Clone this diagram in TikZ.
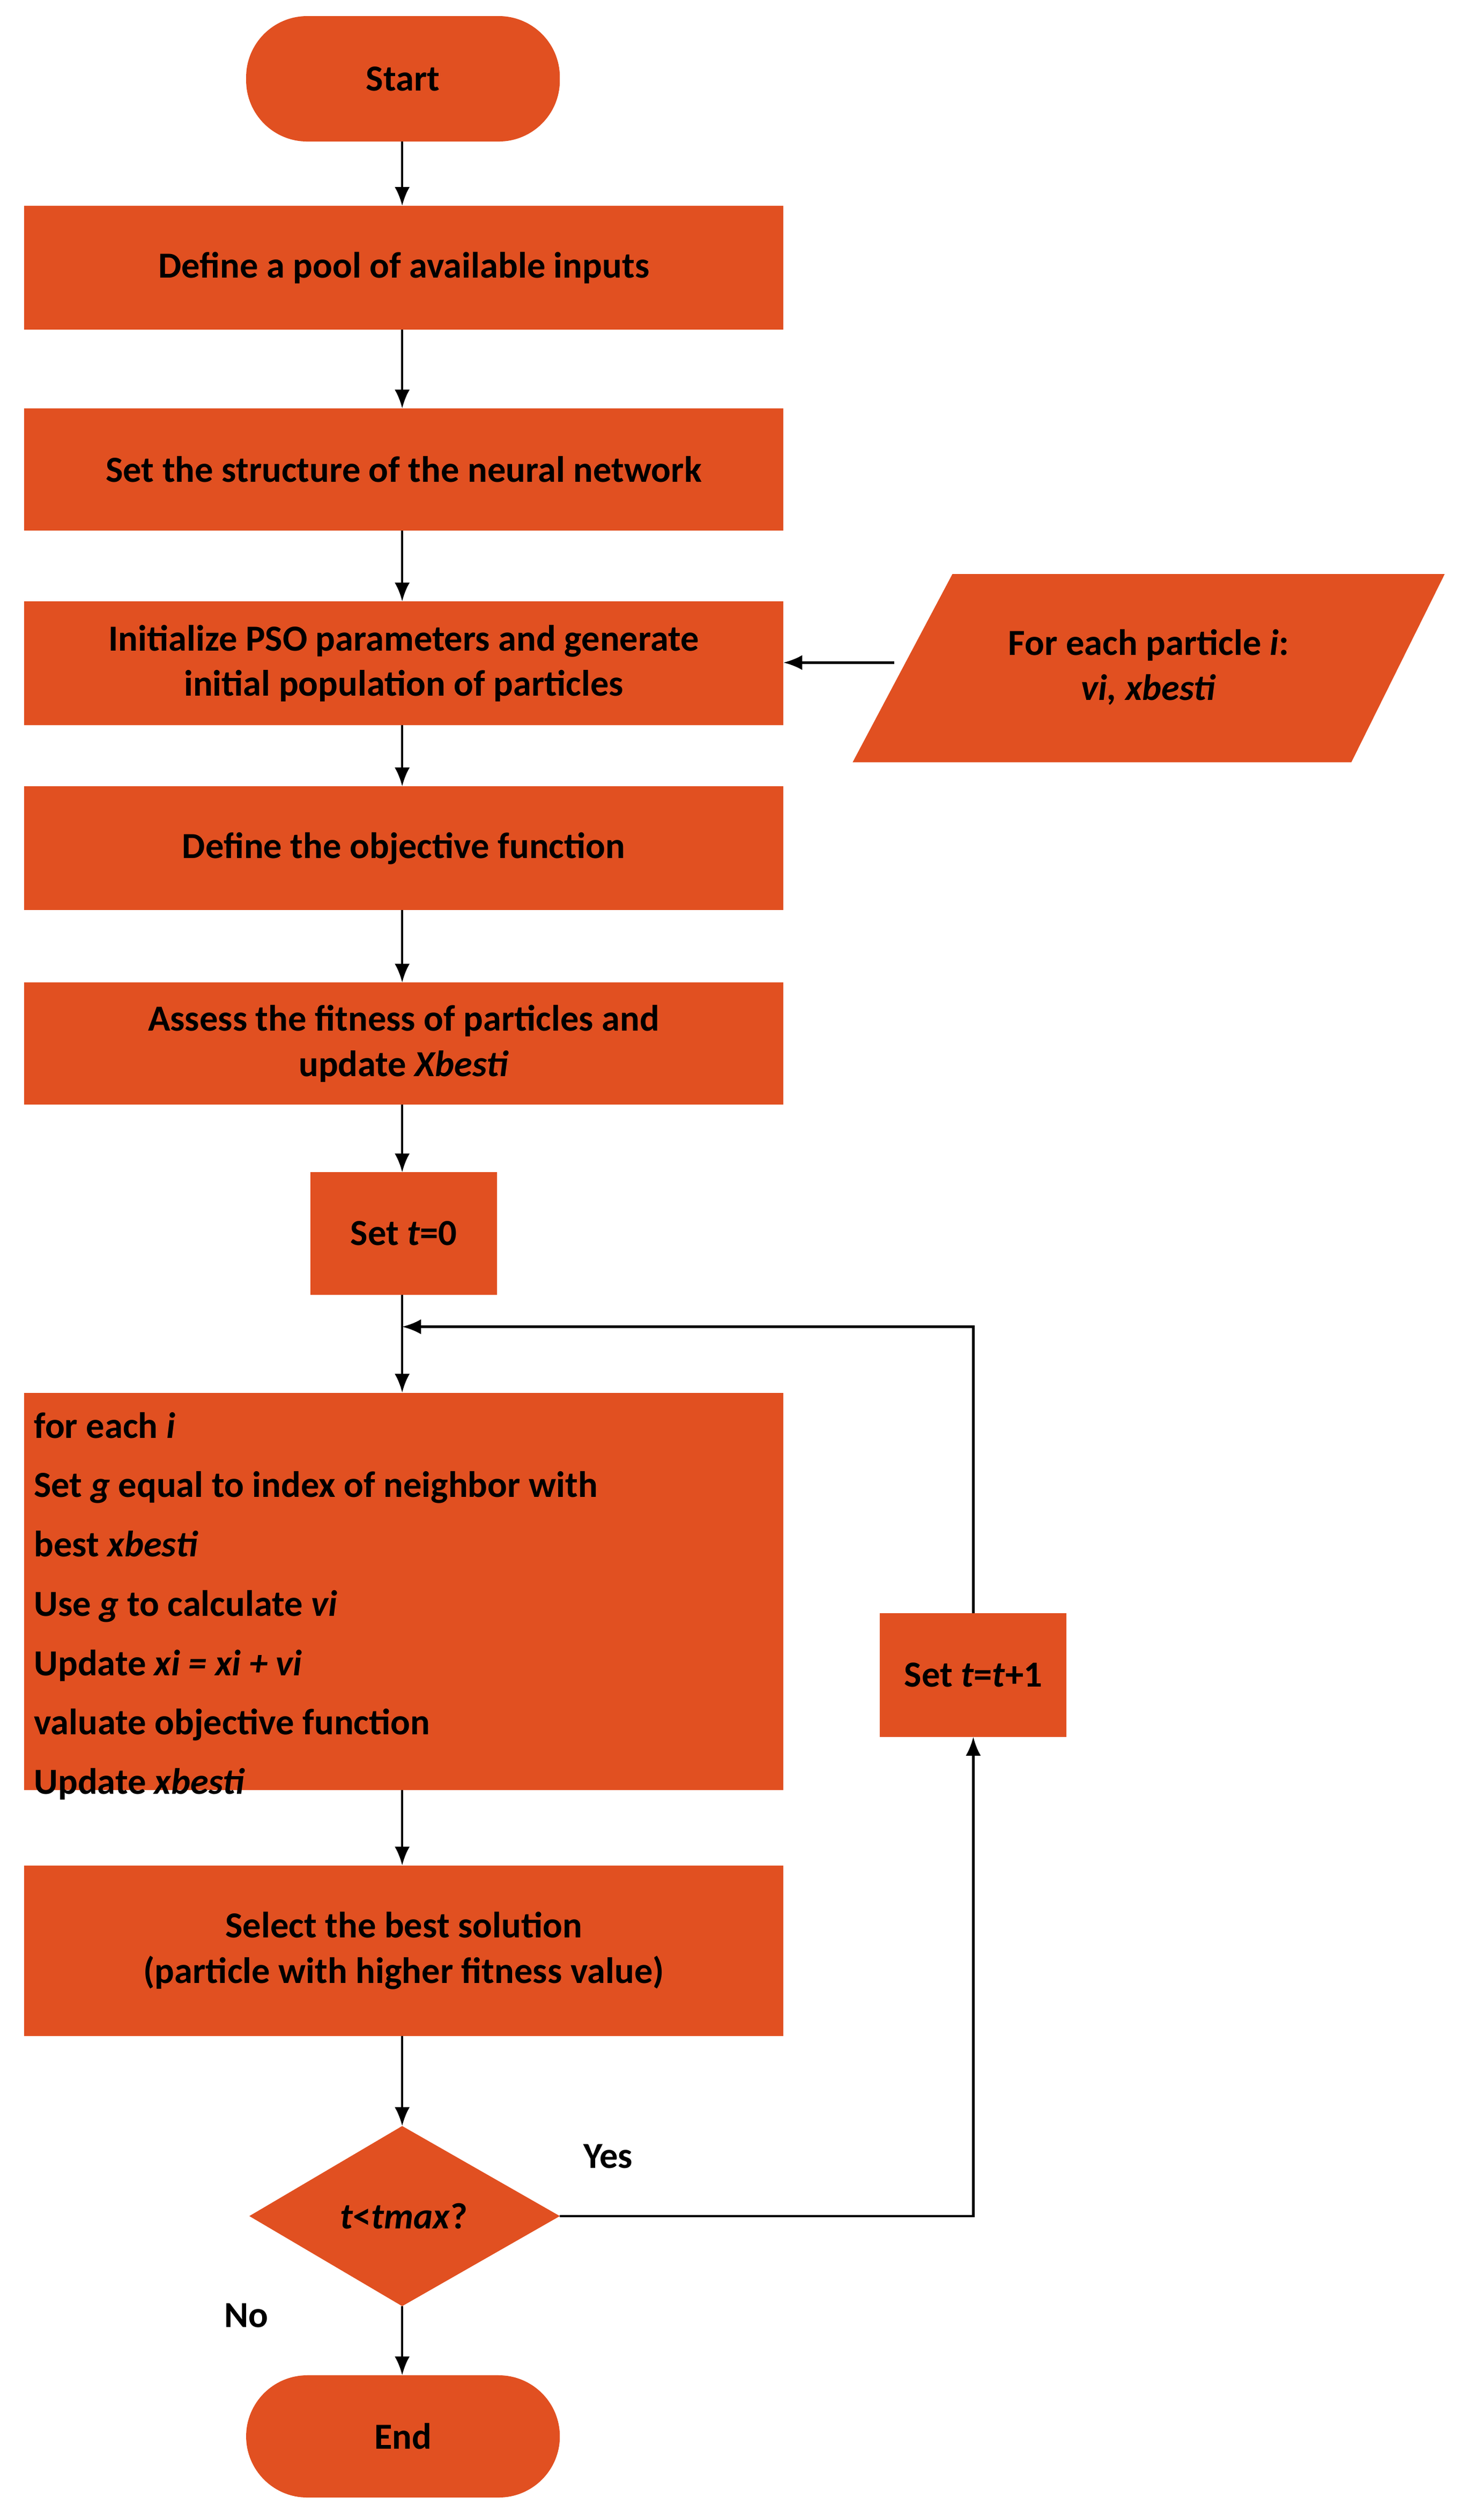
\documentclass[tikz,border=0pt]{standalone}
\usepackage{fontspec}
\setmainfont{Carlito}
\usetikzlibrary{shapes.geometric,arrows.meta}
\definecolor{org}{HTML}{E15021}
\begin{document}
\begin{tikzpicture}[x=0.03cm,y=-0.03cm,
  every node/.style={font=\fontsize{19.5}{24}\selectfont\bfseries},
  box/.style={fill=org,draw=none,inner sep=0},
  arr/.style={-{Latex[length=10pt,width=8pt]},line width=1.3pt}]
\useasboundingbox (0,0) rectangle (913,1567);
\fill[org,rounded corners=38*0.03cm] (153,10) rectangle (348,88);
\node (start) at (250.5,49) {Start};
\coordinate (startb) at (250,88);
\fill[org] (15,128) rectangle (487,205); \node (b1) at (251,166.5) {Define a pool of available inputs};
\fill[org] (15,254) rectangle (487,330); \node (b2) at (251,292) {Set the structure of the neural network};
\fill[org] (15,374) rectangle (487,451); \node[align=center] (b3) at (251,412.5) {Initialize PSO parameters and generate\\initial population of particles};
\fill[org] (592,357) -- (898,357) -- (840,474) -- (530,474) -- cycle;
\node[align=center] (par) at (714,415) {For each particle \textit{i}:\\\textit{vi, xbesti}};
\fill[org] (15,489) rectangle (487,566); \node (b4) at (251,527.5) {Define the objective function};
\fill[org] (15,611) rectangle (487,687); \node[align=center] (b5) at (251,649) {Assess the fitness of particles and\\update \textit{Xbesti}};
\fill[org] (193,729) rectangle (309,805); \node (t0) at (251,767) {Set \textit{t}=0};
\fill[org] (15,866) rectangle (487,1113);
\node[align=left,anchor=north west,font=\fontsize{19.5}{31.5}\selectfont\bfseries] (big) at (17,874) {for each \textit{i}\\Set \textit{g} equal to index of neighbor with\\best \textit{xbesti}\\Use \textit{g} to calculate \textit{vi}\\Update \textit{xi = xi + vi}\\valuate objective function\\Update \textit{xbesti}};
\fill[org] (547,1003) rectangle (663,1080); \node (t1) at (605,1041.5) {Set \textit{t}=\textit{t}+1};
\fill[org] (15,1160) rectangle (487,1266); \node[align=center] (sel) at (251,1213) {Select the best solution\\(particle with higher fitness value)};
\fill[org] (250,1322) -- (348,1378) -- (250,1434) -- (155,1378) -- cycle;
\node (dia) at (251,1378) {\textit{t}<\textit{tmax}?};
\fill[org,rounded corners=38*0.03cm] (153,1477) rectangle (348,1553);
\node (end) at (250.5,1515) {End};
\draw[arr] (250,88) -- (250,128);
\draw[arr] (250,205) -- (250,254);
\draw[arr] (250,330) -- (250,374);
\draw[arr] (556,412) -- (487,412);
\draw[arr] (250,451) -- (250,489);
\draw[arr] (250,566) -- (250,611);
\draw[arr] (250,687) -- (250,729);
\draw[arr] (250,805) -- (250,866);
\draw[arr] (605,1003) -- (605,825) -- (250,825);
\draw[arr] (250,1113) -- (250,1160);
\draw[arr] (250,1266) -- (250,1322);
\draw[arr] (348,1378) -- (605,1378) -- (605,1080);
\draw[arr] (250,1434) -- (250,1477);
\node (yes) at (378,1341) {Yes};
\node (no) at (153,1440) {No};
\end{tikzpicture}
\end{document}
